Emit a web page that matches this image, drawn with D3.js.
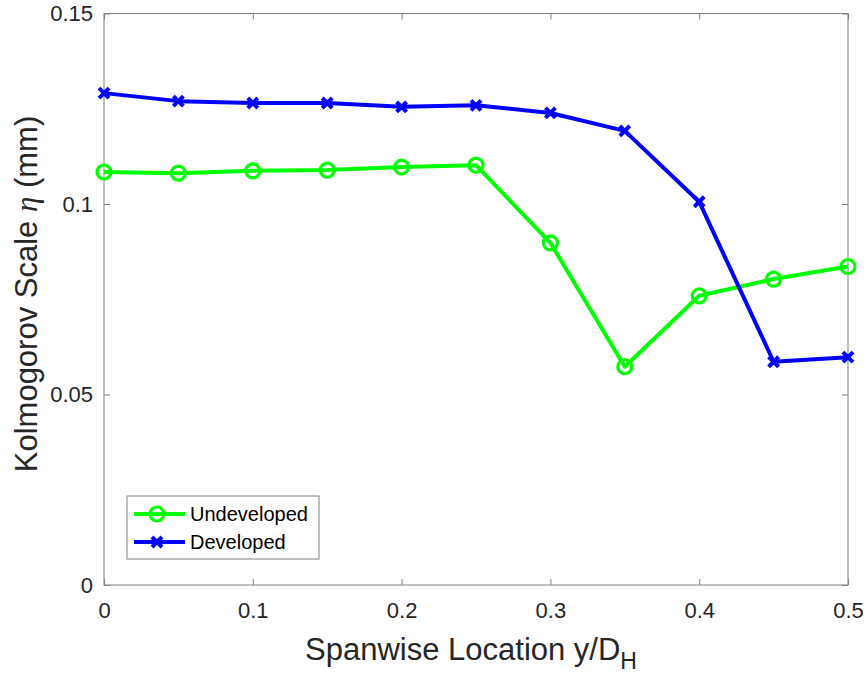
<!DOCTYPE html>
<html><head><meta charset="utf-8">
<script src="https://cdn.jsdelivr.net/npm/d3@7"></script>
<style>body{margin:0;background:#fff;} text{font-family:"Liberation Sans",Arial,sans-serif;}</style>
</head><body>
<svg id="c" width="866" height="677"></svg>
<script>
const xValues = [0, 0.05, 0.1, 0.15, 0.2, 0.25, 0.3, 0.35, 0.4, 0.45, 0.5];
const undeveloped = [0.1084, 0.1081, 0.1087, 0.1089, 0.1097, 0.1102, 0.0898, 0.0573, 0.0759, 0.0803, 0.0836];
const developed = [0.1291, 0.1270, 0.1265, 0.1265, 0.1255, 0.1259, 0.1239, 0.1192, 0.1006, 0.0586, 0.0598];
const xTicks = [0, 0.1, 0.2, 0.3, 0.4, 0.5];
const yTicks = [0, 0.05, 0.1, 0.15];
const seriesNames = ["Undeveloped", "Developed"];

const svg = d3.select("#c");
const L = 104, R = 848, T = 13.5, B = 585;
const x = d3.scaleLinear().domain([0, 0.5]).range([L, R]);
const y = d3.scaleLinear().domain([0, 0.15]).range([B, T]);
const axisColor = "#808080", textColor = "#262626";

// box
svg.append("rect").attr("x", L).attr("y", T).attr("width", R - L).attr("height", B - T)
  .attr("fill", "none").attr("stroke", axisColor).attr("stroke-width", 1);

// axes
const fmt = d => d === 0 ? "0" : String(+d.toFixed(2));
const gx = svg.append("g").attr("transform", `translate(0,${B})`)
  .call(d3.axisBottom(x).tickValues(xTicks).tickSizeInner(-6).tickSizeOuter(0).tickPadding(17).tickFormat(fmt));
const gxt = svg.append("g").attr("transform", `translate(0,${T})`)
  .call(d3.axisTop(x).tickValues(xTicks).tickSizeInner(-6).tickSizeOuter(0).tickFormat(""));
const gy = svg.append("g").attr("transform", `translate(${L},0)`)
  .call(d3.axisLeft(y).tickValues(yTicks).tickSizeInner(-6).tickSizeOuter(0).tickPadding(11).tickFormat(fmt));
const gyr = svg.append("g").attr("transform", `translate(${R},0)`)
  .call(d3.axisRight(y).tickValues(yTicks).tickSizeInner(-6).tickSizeOuter(0).tickFormat(""));
[gx, gxt, gy, gyr].forEach(g => {
  g.select(".domain").remove();
  g.selectAll(".tick line").attr("stroke", axisColor);
  g.selectAll(".tick text").attr("fill", textColor).style("font-size", "22px")
    .style("font-family", '"Liberation Sans",Arial,sans-serif');
});

// axis titles
const xt = svg.append("text").attr("x", 471).attr("y", 660).attr("text-anchor", "middle")
  .attr("fill", textColor).style("font-size", "31px");
xt.append("tspan").text("Spanwise Location y/D");
xt.append("tspan").text("H").attr("dy", 9).style("font-size", "23px");

const yt = svg.append("text").attr("transform", `translate(37,${(110 + 478) / 2}) rotate(-90)`)
  .attr("text-anchor", "middle").attr("fill", textColor).style("font-size", "31px");
yt.append("tspan").text("Kolmogorov Scale ");
yt.append("tspan").text("η").style("font-family", '"Liberation Serif","DejaVu Serif",serif').style("font-style", "italic");
yt.append("tspan").text(" (mm)");

// lines
const line = d3.line().x((d, i) => x(xValues[i])).y(d => y(d));
const green = "#00ff00", blue = "#0000ff";
svg.append("path").datum(undeveloped).attr("d", line).attr("fill", "none").attr("stroke", green)
  .attr("stroke-width", 4).attr("stroke-linejoin", "round");
svg.append("path").datum(developed).attr("d", line).attr("fill", "none").attr("stroke", blue)
  .attr("stroke-width", 4).attr("stroke-linejoin", "round");

function circleMarker(g, cx, cy) {
  g.append("circle").attr("cx", cx).attr("cy", cy).attr("r", 7).attr("fill", "none")
    .attr("stroke", green).attr("stroke-width", 3.2);
}
function xMarker(g, cx, cy) {
  const s = 5;
  g.append("path").attr("d", `M${cx - s},${cy - s}L${cx + s},${cy + s}M${cx - s},${cy + s}L${cx + s},${cy - s}`)
    .attr("stroke", blue).attr("stroke-width", 4).attr("fill", "none");
}
const mg = svg.append("g");
undeveloped.forEach((v, i) => circleMarker(mg, x(xValues[i]), y(v)));
developed.forEach((v, i) => xMarker(mg, x(xValues[i]), y(v)));

// legend
const lg = svg.append("g");
lg.append("rect").attr("x", 127).attr("y", 496).attr("width", 192).attr("height", 63)
  .attr("fill", "#fff").attr("stroke", axisColor).attr("stroke-width", 1);
const rows = [{n: seriesNames[0], c: green, y: 514, m: circleMarker}, {n: seriesNames[1], c: blue, y: 542, m: xMarker}];
rows.forEach(r => {
  lg.append("line").attr("x1", 134).attr("x2", 185).attr("y1", r.y).attr("y2", r.y)
    .attr("stroke", r.c).attr("stroke-width", 4);
  r.m(lg, 157, r.y);
  lg.append("text").attr("x", 190).attr("y", r.y + 7).attr("fill", "#000").style("font-size", "20px").text(r.n);
});
</script>
</body></html>
